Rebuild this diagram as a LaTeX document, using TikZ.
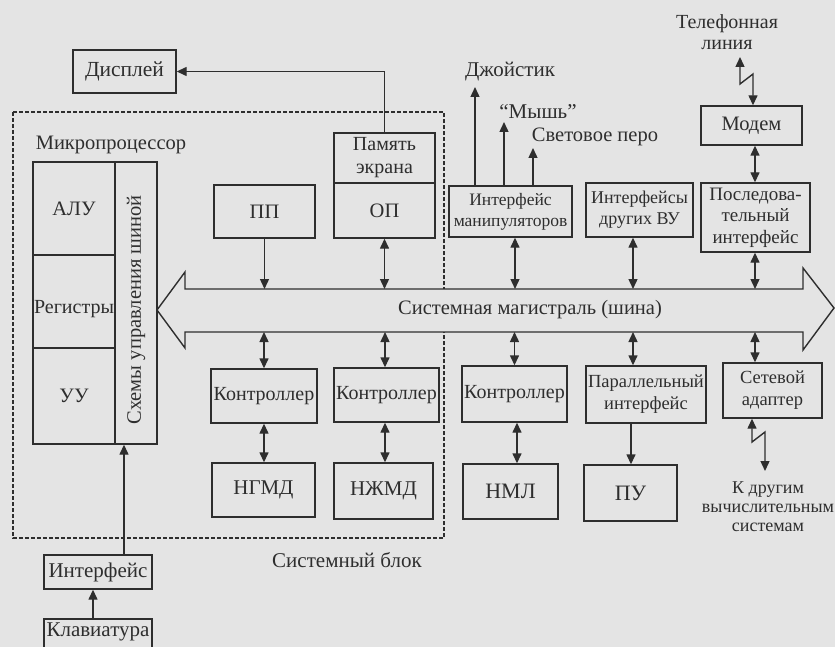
\documentclass[tikz,border=0pt]{standalone}
\usepackage{fontspec}
\setmainfont{Liberation Serif}
\usetikzlibrary{arrows.meta}
\definecolor{paper}{HTML}{E4E4E4}
\definecolor{ink}{HTML}{2E2E2E}
\begin{document}
\begin{tikzpicture}[x=1pt,y=-1pt,
  every node/.style={text=ink},
  lbl/.style={font=\fontsize{20.5}{24}\selectfont, inner sep=0pt},
  box/.style={draw=ink, line width=1.4pt, inner sep=0pt, align=center,
    font=\fontsize{20.5}{24}\selectfont},
  two/.style={font=\fontsize{18.5}{22}\selectfont},
  conn/.style={draw=ink, line width=1.4pt},
  tip/.style={conn, -{Triangle[length=10pt,width=9pt]}},
  tips/.style={conn, {Triangle[length=10pt,width=9pt]}-{Triangle[length=10pt,width=9pt]}},
  sysblk/.style={draw=ink, line width=1.2pt, dash pattern=on 4pt off 2pt}]
\fill[paper] (0,0) rectangle (835,647);
\useasboundingbox (0,0) rectangle (835,647);
\clip (0,0) rectangle (835,647);

% system block
\draw[sysblk] (13,112) rectangle (444,538);
\node[lbl, font=\fontsize{21}{24}\selectfont] (sb) at (347,560) {Системный блок};

% microprocessor
\node[lbl] (mpl) at (111,145) {Микропроцессор};
\node[box, minimum width=82pt, minimum height=93pt] (alu) at (74,208.5) {АЛУ};
\node[box, minimum width=82pt, minimum height=93pt] (reg) at (74,301.5) {};
\node[lbl, font=\fontsize{20}{24}\selectfont] (regt) at (74,309) {Регистры};
\node[box, minimum width=82pt, minimum height=96pt] (uu) at (74,396) {УУ};
\node[box, minimum width=42pt, minimum height=282pt] (shc) at (136,303) {};
\node[lbl, rotate=90] (shct) at (136,310) {Схемы управления шиной};

% display and memory
\node[box, minimum width=103pt, minimum height=43pt, font=\fontsize{21.5}{24}\selectfont] (disp) at (124.5,71.5) {Дисплей};
\node[box, minimum width=101pt, minimum height=50pt, font=\fontsize{20}{23}\selectfont] (pam) at (384.5,158) {Память\\экрана};
\node[box, minimum width=101pt, minimum height=55pt] (op) at (384.5,210.5) {ОП};
\node[box, minimum width=101pt, minimum height=53pt] (pp) at (264.5,211.5) {ПП};

% controllers and drives
\node[box, minimum width=106pt, minimum height=54pt, font=\fontsize{20}{24}\selectfont] (k1) at (264,396) {Контроллер};
\node[box, minimum width=105pt, minimum height=54pt, font=\fontsize{20}{24}\selectfont] (k2) at (386.5,395) {Контроллер};
\node[box, minimum width=103pt, minimum height=54pt, font=\fontsize{21}{24}\selectfont] (ngmd) at (263.5,490) {НГМД};
\node[box, minimum width=99pt, minimum height=56pt, font=\fontsize{21}{24}\selectfont] (nzh) at (383.5,491) {НЖМД};
\node[box, minimum width=105pt, minimum height=56pt, font=\fontsize{20}{24}\selectfont] (k3) at (514.5,394) {Контроллер};
\node[box, minimum width=95pt, minimum height=55pt, font=\fontsize{22}{24}\selectfont] (nml) at (510.5,491.5) {НМЛ};
\node[box, two, minimum width=120pt, minimum height=57pt] (par) at (646,394.5) {Параллельный\\интерфейс};
\node[box, minimum width=93pt, minimum height=56pt, font=\fontsize{22}{24}\selectfont] (pu) at (630.5,493) {ПУ};
\node[box, two, minimum width=99pt, minimum height=55pt] (set) at (772.5,390.5) {Сетевой\\адаптер};

% upper interfaces
\node[box, minimum width=123pt, minimum height=51pt, font=\fontsize{17.5}{21}\selectfont] (im) at (510.5,211.5) {Интерфейс\\манипуляторов};
\node[box, minimum width=107pt, minimum height=54pt, font=\fontsize{18}{21}\selectfont] (idr) at (639.5,210) {Интерфейсы\\других ВУ};
\node[box, minimum width=109pt, minimum height=69pt, font=\fontsize{19}{21.5}\selectfont] (posl) at (755.5,217.5) {Последова-\\тельный\\интерфейс};
\node[box, minimum width=101pt, minimum height=39pt] (modem) at (751.5,125.5) {Модем};

% keyboard
\node[box, minimum width=108pt, minimum height=34pt, font=\fontsize{21}{24}\selectfont] (intf) at (98,572) {Интерфейс};
\node[box, minimum width=108pt, minimum height=32pt] (klav) at (98,635) {};
\node[lbl, font=\fontsize{21}{24}\selectfont] (klavt) at (98,632) {Клавиатура};

% labels
\node[lbl, font=\fontsize{21}{24}\selectfont] (joy) at (510,72) {Джойстик};
\node[lbl, font=\fontsize{21}{24}\selectfont] (mouse) at (538,112) {“Мышь”};
\node[lbl] (pen) at (595,137) {Световое перо};
\node[lbl, align=center, font=\fontsize{20}{21.5}\selectfont] (tel) at (727,32) {Телефонная\\линия};
\node[lbl, align=center, font=\fontsize{18}{19}\selectfont] (other) at (768,507) {К другим\\вычислительным\\системам};

% system bus
\draw[draw=ink, line width=1.4pt, fill=paper]
  (157,310) -- (185,272) -- (185,289) -- (803,289) -- (803,268) -- (834,308)
  -- (803,350) -- (803,332) -- (185,332) -- (185,348) -- cycle;
\coordinate (bt) at (0,289);
\coordinate (bb) at (0,332);
\node[lbl] (busl) at (530,310) {Системная магистраль (шина)};

% connectors
\draw[tip] (pam.north) |- (disp.east);
\draw[tip] (pp.south) -- (pp.south |- bt);
\draw[tips] (op.south) -- (op.south |- bt);
\draw[tips] (k1.north) -- (k1.north |- bb);
\draw[tips] ([xshift=-1.5pt]k2.north) -- ([xshift=-1.5pt]k2.north |- bb);
\draw[tips] (k1.south) -- (k1.south |- ngmd.north);
\draw[tips] ([xshift=-1.5pt]k2.south) -- ([xshift=-1.5pt]k2.south |- nzh.north);
\draw[tips] ([xshift=4.5pt]im.south) -- ([xshift=4.5pt]im.south |- bt);
\draw[tips] ([xshift=-6.5pt]idr.south) -- ([xshift=-6.5pt]idr.south |- bt);
\draw[tips] ([xshift=-0.5pt]posl.south) -- ([xshift=-0.5pt]posl.south |- bt);
\draw[tips] ([xshift=3.5pt]modem.south) -- ([xshift=3.5pt]modem.south |- posl.north);
\draw[tips] (k3.north) -- (k3.north |- bb);
\draw[tips] ([xshift=-13pt]par.north) -- ([xshift=-13pt]par.north |- bb);
\draw[tips] ([xshift=-17.5pt]set.north) -- ([xshift=-17.5pt]set.north |- bb);
\draw[tips] ([xshift=2.5pt]k3.south) -- ([xshift=2.5pt]k3.south |- nml.north);
\draw[tip] ([xshift=0.5pt]pu.north |- par.south) -- ([xshift=0.5pt]pu.north);

% manipulator outputs
\coordinate (joye) at (475,87);
\coordinate (mousee) at (504,122);
\coordinate (pene) at (533,148);
\draw[tip] (im.north -| joye) -- (joye);
\draw[tip] (im.north -| mousee) -- (mousee);
\draw[tip] (im.north -| pene) -- (pene);

% zigzag lines
\coordinate (telt) at (740,57);
\draw[tips] (telt) -- (740,84) -- (753,74) -- (modem.north -| 753,0);
\coordinate (othert) at (765,471);
\draw[tips] (set.south -| 752,0) -- (752,442) -- (765,432) -- (othert);

% keyboard connectors
\draw[tip] ([xshift=-5pt]klav.north) -- ([xshift=-5pt]klav.north |- intf.south);
\draw[tip] ([xshift=26pt]intf.north) -- ([xshift=26pt]intf.north |- shc.south);
\end{tikzpicture}
\end{document}
